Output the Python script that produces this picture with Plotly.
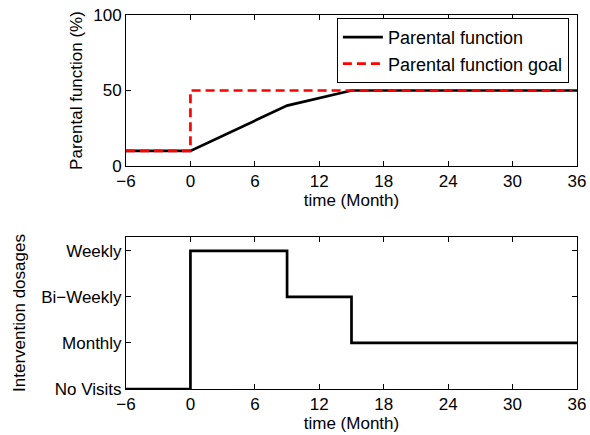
import plotly.graph_objects as go
from plotly.subplots import make_subplots

# Data
time_pf = [-6, 0, 9, 15, 36]
parental_function = [10, 10, 40, 50, 50]
time_goal = [-6, 0, 36]
parental_goal = [10, 50, 50]
time_dose = [-6, 0, 9, 15, 36]
dose_level = [0, 3, 2, 1, 1]
dose_labels = ["No Visits", "Monthly", "Bi\u2212Weekly", "Weekly"]
x_ticks = [-6, 0, 6, 12, 18, 24, 30, 36]
x_tick_text = ["\u22126", "0", "6", "12", "18", "24", "30", "36"]

FONT = "Liberation Sans, Arial, Helvetica, sans-serif"
FS = 17

fig = make_subplots(rows=2, cols=1)

fig.add_trace(go.Scatter(x=time_pf, y=parental_function, mode="lines",
                         name="Parental function",
                         line=dict(color="black", width=2.7)), row=1, col=1)
fig.add_trace(go.Scatter(x=time_goal, y=parental_goal, mode="lines",
                         name="Parental function goal", line_shape="hv",
                         line=dict(color="#ff0000", width=2.7, dash="9px,5px")), row=1, col=1)
fig.add_trace(go.Scatter(x=time_dose, y=dose_level, mode="lines",
                         line_shape="hv", showlegend=False,
                         line=dict(color="black", width=2.7)), row=2, col=1)

axis_common = dict(showgrid=False, zeroline=False, showline=True, linecolor="black",
                   linewidth=1, mirror="allticks", ticks="inside", ticklen=5,
                   tickcolor="black", tickfont=dict(size=FS, color="black"),
                   automargin=False)

fig.update_xaxes(**axis_common, range=[-6, 36], tickvals=x_ticks, ticktext=x_tick_text,
                 title=dict(text="time (Month)", font=dict(size=FS, color="black"), standoff=0))
fig.update_yaxes(**axis_common)

fig.update_yaxes(range=[0, 100], tickvals=[0, 50, 100],
                 title=dict(text="Parental function (%)", font=dict(size=FS, color="black"), standoff=6),
                 row=1, col=1)
fig.update_yaxes(range=[0, 3.3], tickvals=[0, 1, 2, 3], ticktext=dose_labels,
                 title=dict(text="Intervention dosages", font=dict(size=FS, color="black"), standoff=11),
                 row=2, col=1)

fig.update_layout(
    width=590, height=435,
    margin=dict(l=126, r=13, t=15, b=46),
    paper_bgcolor="white", plot_bgcolor="white",
    font=dict(family=FONT, size=FS, color="black"),
    xaxis=dict(domain=[0, 1]),
    yaxis=dict(domain=[0.5963, 1.0]),
    xaxis2=dict(domain=[0, 1]),
    yaxis2=dict(domain=[0.0, 0.4064]),
    legend=dict(x=0.982, y=0.992, xanchor="right", yanchor="top",
                bordercolor="black", borderwidth=1, bgcolor="white",
                font=dict(size=18), tracegroupgap=0, itemwidth=40),
)

fig.write_html("out.html")
